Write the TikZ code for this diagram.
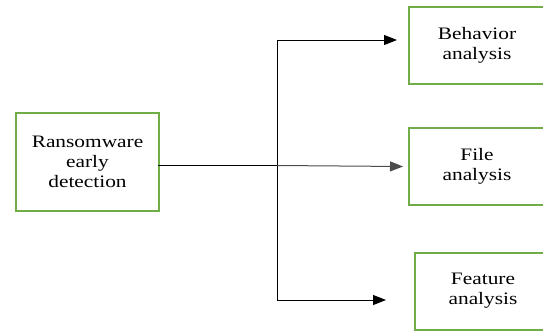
\documentclass[tikz,border=0pt]{standalone}
\usepackage{fontspec}
\setmainfont{Liberation Serif}[FakeStretch=1.22]
\usepackage{tikz}
\usetikzlibrary{arrows.meta, positioning, calc}

\definecolor{boxgreen}{RGB}{112,173,71}

\begin{document}
\begin{tikzpicture}[
    x=1pt, y=-1pt,
    srcbox/.style={rectangle, draw=boxgreen, line width=2pt, fill=white,
                   minimum width=143pt, minimum height=98pt, align=center,
                   font=\fontsize{17.5}{20}\selectfont, inner sep=0pt},
    subbox/.style={rectangle, draw=boxgreen, line width=2pt, fill=white,
                   minimum width=136pt, minimum height=77pt, align=center,
                   font=\fontsize{17.5}{20}\selectfont, inner sep=0pt},
    link/.style={draw=black, line width=1.4pt},
    arr/.style={-{Triangle[length=13pt, width=10pt]}, draw=black, line width=1pt}
]
\useasboundingbox (0,0) rectangle (543,330);
\clip (0,0) rectangle (543,330);

\node[srcbox] (det)  at (87.5,162) {Ransomware\\early\\detection};
\node[subbox] (beh)  at (477,45.5) {Behavior\\analysis};
\node[subbox] (file) at (477,166)  {File\\analysis};
\node[subbox] (feat) at (483,291)  {Feature\\analysis};

\coordinate (jn) at (277,165.5);

\draw[link] ([xshift=-2pt,yshift=-3.5pt]det.east) -- (jn);
\draw[arr] (jn) |- ([xshift=-11pt,yshift=5.5pt]beh.west);
\draw[arr, draw=black!70] (jn) -- ([xshift=-5pt,yshift=-0.5pt]file.west);
\draw[arr] (jn) |- ([xshift=-28pt,yshift=-9pt]feat.west);
\end{tikzpicture}
\end{document}
